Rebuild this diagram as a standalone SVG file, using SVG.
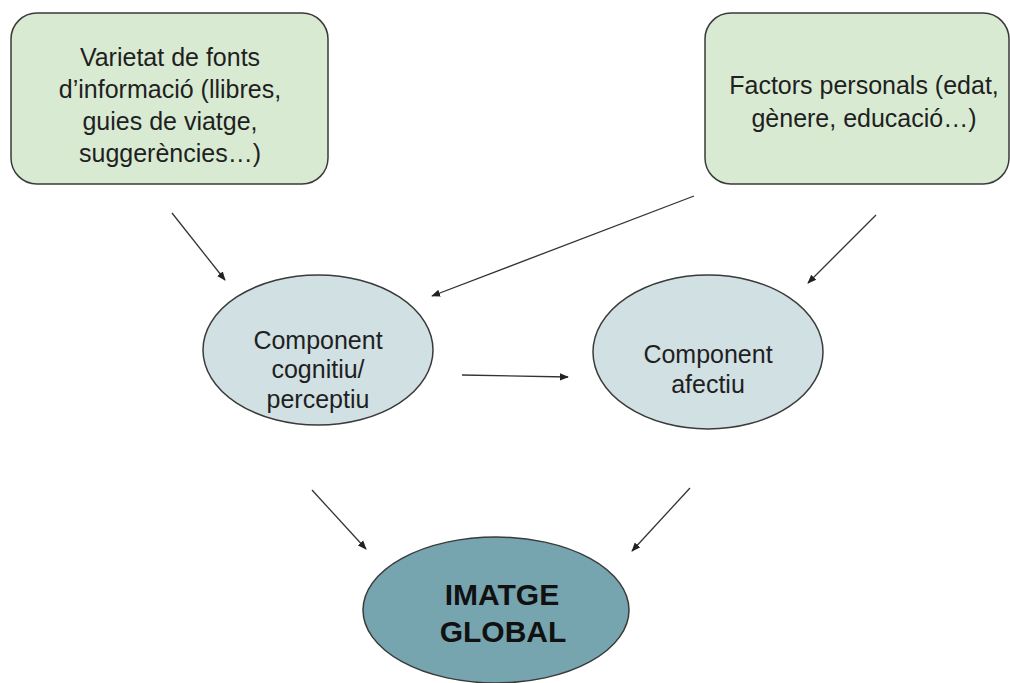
<svg xmlns="http://www.w3.org/2000/svg" width="1010" height="683" viewBox="0 0 1010 683">
<style>
.box{fill:#d9ead3;stroke:#3a3a3a;stroke-width:1.5}
.ell{fill:#d0e0e3;stroke:#3a3a3a;stroke-width:1.5}
.main{fill:#76a5af;stroke:#3a3a3a;stroke-width:1.5}
text{font-family:Arial,"Liberation Sans",sans-serif;fill:#1f1f1f;text-anchor:middle}
.t{font-size:25px}
.b{font-size:30px;font-weight:bold;fill:#111}
.c line{stroke:#333;stroke-width:1.3;marker-end:url(#ah)}
</style>
<defs>
<marker id="ah" viewBox="0 0 10 10" refX="9" refY="5" markerWidth="9" markerHeight="9" markerUnits="userSpaceOnUse" orient="auto">
<path d="M0,1 L10,5 L0,9 Z" fill="#222"/>
</marker>
</defs>
<rect width="1010" height="683" fill="#fff"/>
<g id="fonts">
<rect class="box" x="11" y="13" width="317" height="171" rx="26"/>
<text class="t" x="170" y="66">Varietat de fonts</text>
<text class="t" x="170" y="98">d’informació (llibres,</text>
<text class="t" x="170" y="130">guies de viatge,</text>
<text class="t" x="170" y="162">suggerències…)</text>
</g>
<g id="factors">
<rect class="box" x="705" y="13" width="304" height="171" rx="26"/>
<text class="t" x="864" y="94">Factors personals (edat,</text>
<text class="t" x="864" y="127">gènere, educació…)</text>
</g>
<g id="cognitiu">
<ellipse class="ell" cx="318" cy="350" rx="115" ry="75"/>
<text class="t" x="318" y="349">Component</text>
<text class="t" x="318" y="378">cognitiu/</text>
<text class="t" x="318" y="408">perceptiu</text>
</g>
<g id="afectiu">
<ellipse class="ell" cx="708" cy="352" rx="115" ry="77"/>
<text class="t" x="708" y="363">Component</text>
<text class="t" x="708" y="393">afectiu</text>
</g>
<g id="global">
<ellipse class="main" cx="496" cy="610" rx="133" ry="73"/>
<text class="b" x="502" y="605">IMATGE</text>
<text class="b" x="503" y="642">GLOBAL</text>
</g>
<g id="connectors" class="c">
<line x1="172" y1="213" x2="225" y2="280"/>
<line x1="694" y1="196" x2="432" y2="296"/>
<line x1="876" y1="215" x2="808" y2="283"/>
<line x1="462" y1="375" x2="568" y2="377"/>
<line x1="312" y1="490" x2="366" y2="549"/>
<line x1="690" y1="488" x2="632" y2="551"/>
</g>
</svg>
